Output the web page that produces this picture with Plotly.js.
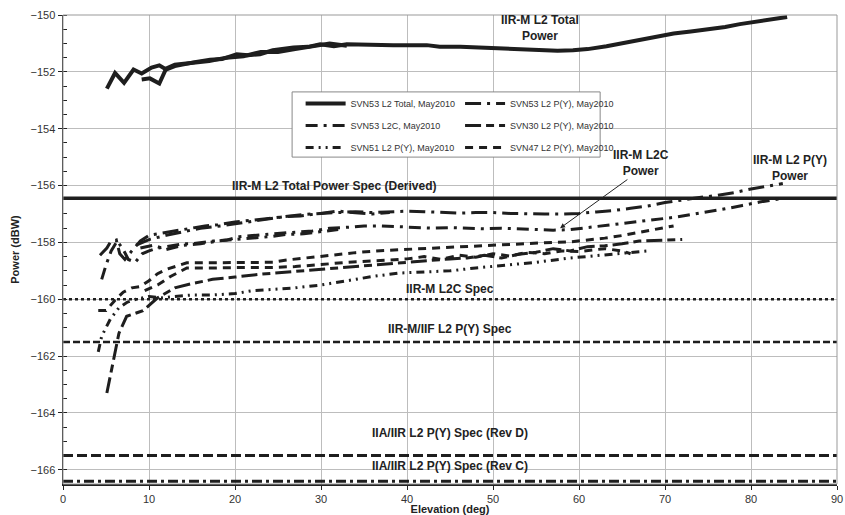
<!DOCTYPE html>
<html>
<head>
<meta charset="utf-8">
<script src="https://cdn.plot.ly/plotly-3.0.1.min.js"></script>
<style>html,body{margin:0;padding:0;background:#fff;}#chart{width:845px;height:515px;}</style>
</head>
<body>
<div id="chart"></div>
<script>
// ---- Data (elevation deg, power dBW); null separates the two passes of a satellite ----
var totalX = [5.1,6.05,7.1,8.2,9.15,10.3,11.2,12.0,13.0,14.0,15.5,17.1,18.5,20.2,21.5,22.9,24.4,26.8,28.5,29.9,31.5,33.0,35.3,38.4,42.3,43.8,46.2,49.7,52.5,55.9,57.5,59.3,61,63.2,65,67.1,69,71.0,73,74.8,77,78.7,80.5,82.6,84.2,
              null,9.15,10.1,11.2,12.0,13.0,15,17,19,21,23,25,27,29.5,31,33];
var totalY = [-152.59,-152.04,-152.39,-151.92,-152.06,-151.85,-151.77,-151.92,-151.8,-151.73,-151.65,-151.57,-151.55,-151.38,-151.42,-151.38,-151.24,-151.14,-151.12,-151.03,-151.1,-151.03,-151.05,-151.06,-151.06,-151.12,-151.12,-151.16,-151.2,-151.24,-151.26,-151.24,-151.2,-151.1,-151.0,-150.86,-150.78,-150.65,-150.58,-150.51,-150.42,-150.32,-150.24,-150.12,-150.07,
              null,-152.27,-152.23,-152.41,-151.88,-151.75,-151.7,-151.62,-151.5,-151.45,-151.3,-151.3,-151.2,-151.08,-151.0,-151.08];

var py53X = [4.3,5.1,5.5,6.2,6.6,7.2,8,9,10,11,12,13,14,15,16.5,18,20,22,24,26,28,30,32,34,36,38,40,42,44,46,48,50,52,54,56,58,60,62,64,66,68,70,72,74,76,78,80,82,83.7,
             null,8.5,10,12,14,16,18.6,21,23.3,25.6,27.6,30,32,34,36,38];
var py53Y = [-158.45,-158.2,-158.0,-157.92,-158.4,-158.6,-158.3,-157.95,-157.75,-157.7,-157.65,-157.6,-157.55,-157.5,-157.42,-157.38,-157.28,-157.22,-157.15,-157.07,-157.02,-156.98,-156.94,-156.92,-156.95,-156.93,-156.9,-156.92,-156.95,-156.97,-156.95,-156.95,-156.98,-157.0,-157.0,-157.0,-156.98,-156.93,-156.88,-156.8,-156.72,-156.6,-156.5,-156.42,-156.35,-156.25,-156.12,-156.02,-155.93,
             null,-158.1,-157.9,-157.75,-157.62,-157.5,-157.41,-157.3,-157.2,-157.1,-157.07,-156.98,-156.9,-156.96,-157.0,-156.95];

var l2cX = [4.5,5.0,5.6,6.3,7.0,7.6,8.4,9.2,10,11,12,13,14,15,16,17.5,19,20.5,22,23.7,25.2,27,29,31,33,35,37,39,41,43,45,47,49,51,53,55,57,59,61,63,65,67,69,71,73,75,77,79,81,83.7,
            null,9,10.5,12,14,16,18,20,22,24,26,28,30,32];
var l2cY = [-159.3,-158.8,-158.3,-157.95,-158.25,-158.6,-158.7,-158.4,-158.3,-158.2,-158.15,-158.1,-158.05,-158.05,-158.0,-157.95,-157.92,-157.8,-157.76,-157.72,-157.66,-157.64,-157.6,-157.5,-157.47,-157.42,-157.42,-157.45,-157.47,-157.5,-157.48,-157.5,-157.52,-157.5,-157.52,-157.55,-157.57,-157.55,-157.48,-157.42,-157.35,-157.28,-157.2,-157.12,-157.02,-156.93,-156.82,-156.7,-156.58,-156.45,
            null,-158.2,-158.1,-158.25,-158.1,-158.05,-157.95,-157.9,-157.85,-157.8,-157.72,-157.7,-157.62,-157.55];

var svn30X = [5.1,5.8,6.5,7.4,8.3,9.3,11,13,15,17.4,20,23,27,31,35,39,43,45,47,49,51,53,55,57,59,61,63,65,67,70,72];
var svn30Y = [-163.3,-162.2,-161.2,-160.6,-160.5,-160.4,-159.95,-159.6,-159.45,-159.3,-159.22,-159.12,-159.02,-158.92,-158.82,-158.72,-158.62,-158.58,-158.55,-158.45,-158.55,-158.42,-158.35,-158.22,-158.3,-158.15,-158.12,-158.05,-157.95,-157.93,-157.9];

var svn51X = [4.1,4.5,5.5,6.5,7.5,8.5,10,11.5,13,15,17.4,20,22,24,27,30,33,36,39,41,45,48,51,55,59,63,66,68];
var svn51Y = [-161.85,-161.3,-160.7,-160.3,-160.1,-160.0,-159.9,-159.95,-159.9,-159.85,-159.85,-159.8,-159.7,-159.66,-159.6,-159.5,-159.35,-159.2,-159.08,-159.05,-159.0,-158.9,-158.82,-158.7,-158.55,-158.45,-158.35,-158.3];

var svn47X = [4.1,5,6,7,8,9,10,11,12,13,14.4,16,18,20,22,24.4,26,28,30,32,34,36.9,39,41,43,45,47,49,51,53,55,57,59,61,63,65,67,69,71,
              null,9.5,11,12.5,14.4,17,20,22,24.4,27,30,33,36.9,40,42,44,46,48,50,52,54,56,58,60,63,65,66];
var svn47Y = [-160.4,-160.4,-160.05,-159.75,-159.6,-159.55,-159.35,-159.1,-158.95,-158.85,-158.72,-158.72,-158.72,-158.7,-158.7,-158.7,-158.62,-158.55,-158.48,-158.42,-158.36,-158.29,-158.26,-158.22,-158.2,-158.16,-158.12,-158.1,-158.08,-158.05,-158.02,-158.0,-157.98,-157.92,-157.85,-157.76,-157.65,-157.53,-157.42,
              null,-159.7,-159.5,-159.2,-158.9,-158.9,-158.88,-158.88,-158.88,-158.85,-158.78,-158.7,-158.64,-158.58,-158.5,-158.6,-158.45,-158.52,-158.4,-158.48,-158.35,-158.4,-158.3,-158.32,-158.22,-158.3,-158.4];

// Spec levels (dBW)
var specNames = ["IIR-M L2 Total Power Spec (Derived)","IIR-M L2C Spec","IIR-M/IIF L2 P(Y) Spec","IIA/IIR L2 P(Y) Spec (Rev D)","IIA/IIR L2 P(Y) Spec (Rev C)"];
var specLevels = [-156.45,-160.0,-161.5,-165.5,-166.4];
var specRange = [0,90];

var seriesNames = ["SVN53 L2 Total, May2010","SVN53 L2 P(Y), May2010","SVN53 L2C, May2010","SVN30 L2 P(Y), May2010","SVN51 L2 P(Y), May2010","SVN47 L2 P(Y), May2010"];

var C = "#1e1e1e";
function tr(x,y,name,dash,w,leg){
  return {x:x,y:y,name:name,legendgroup:name,type:"scatter",mode:"lines",connectgaps:false,
    line:{color:C,width:w,dash:dash},showlegend:true,legend:leg,hoverinfo:"skip"};
}
var traces = [];
var specDash = ["solid","dot","7px,3px","10px,4px","10px,4px,3px,4px"];
var specW = [3.5,2.5,2.5,3,3];
for (var i=0;i<specLevels.length;i++){
  traces.push({x:specRange,y:[specLevels[i],specLevels[i]],type:"scatter",mode:"lines",
    line:{color:C,width:specW[i],dash:specDash[i]},showlegend:false,hoverinfo:"skip"});
}
traces.push(tr(totalX,totalY,seriesNames[0],"solid",4,"legend"));
traces.push(tr(l2cX,l2cY,seriesNames[2],"12px,6px,3px,6px",3,"legend"));
traces.push(tr(svn51X,svn51Y,seriesNames[4],"8px,5px,2px,5px,2px,5px",3,"legend"));
traces.push(tr(py53X,py53Y,seriesNames[1],"16px,6px,3px,6px",3,"legend2"));
traces.push(tr(svn30X,svn30Y,seriesNames[3],"16px,5px,8px,5px",3,"legend2"));
traces.push(tr(svn47X,svn47Y,seriesNames[5],"8px,6px",3,"legend2"));

var annFont = {family:"Liberation Sans, Arial, sans-serif",size:12,color:"#222"};
var annotations = [
  {x:55.5,y:-150.45,text:"<b>IIR-M L2 Total<br>Power</b>",showarrow:false,font:annFont},
  {x:31.5,y:-156.0,text:"<b>"+specNames[0]+"</b>",showarrow:false,font:annFont},
  {x:45,y:-159.65,text:"<b>"+specNames[1]+"</b>",showarrow:false,font:annFont},
  {x:45,y:-161.05,text:"<b>"+specNames[2]+"</b>",showarrow:false,font:annFont},
  {x:45,y:-164.7,text:"<b>"+specNames[3]+"</b>",showarrow:false,font:annFont},
  {x:45,y:-165.85,text:"<b>"+specNames[4]+"</b>",showarrow:false,font:annFont},
  {x:67.2,y:-155.2,text:"<b>IIR-M L2C<br>Power</b>",showarrow:false,font:annFont},
  {x:84.5,y:-155.4,text:"<b>IIR-M L2 P(Y)<br>Power</b>",showarrow:false,font:annFont},
  {x:57.8,y:-157.5,ax:65.8,ay:-155.75,axref:"x",ayref:"y",text:"",showarrow:true,arrowhead:2,arrowsize:1,arrowwidth:1,arrowcolor:"#222"}
];

var legFont = {family:"Liberation Sans, Arial, sans-serif",size:9,color:"#333"};
var layout = {
  width:845,height:515,
  margin:{l:63,r:8,t:15,b:31},
  paper_bgcolor:"#fff",plot_bgcolor:"#fff",
  font:{family:"Liberation Sans, Arial, sans-serif",size:11,color:"#333"},
  xaxis:{range:[0,90],dtick:10,tick0:0,showgrid:true,gridcolor:"#bdbdbd",gridwidth:1,
    zeroline:false,showline:true,linecolor:"#222",linewidth:1.5,mirror:false,
    ticks:"outside",ticklen:4,tickcolor:"#222",
    title:{text:"<b>Elevation (deg)</b>",font:{size:11,color:"#222"},standoff:4},automargin:false,fixedrange:true},
  yaxis:{range:[-166.5,-150],dtick:2,tick0:-150,showgrid:true,gridcolor:"#bdbdbd",gridwidth:1,
    zeroline:false,showline:true,linecolor:"#222",linewidth:1.5,
    ticks:"outside",ticklen:4,tickcolor:"#222",
    minor:{dtick:0.5,ticks:"inside",ticklen:4,tickcolor:"#222",showgrid:false},
    title:{text:"<b>Power (dBW)</b>",font:{size:11,color:"#222"},standoff:8},automargin:false,fixedrange:true},
  shapes:[
    {type:"rect",xref:"paper",yref:"paper",x0:0,x1:1,y0:0,y1:1,line:{color:"#999",width:1},fillcolor:"rgba(0,0,0,0)",layer:"above"},
    {type:"rect",xref:"paper",yref:"paper",x0:0.296,x1:0.694,y0:0.697,y1:0.836,line:{color:"#888",width:1},fillcolor:"#fff",layer:"above"}
  ],
  legend:{x:0.307,y:0.842,xanchor:"left",yanchor:"top",bgcolor:"rgba(0,0,0,0)",borderwidth:0,font:legFont,tracegroupgap:3,itemwidth:40},
  legend2:{x:0.513,y:0.842,xanchor:"left",yanchor:"top",bgcolor:"rgba(0,0,0,0)",borderwidth:0,font:legFont,tracegroupgap:3,itemwidth:40},
  annotations:annotations,
  showlegend:true
};
Plotly.newPlot("chart",traces,layout,{displayModeBar:false,staticPlot:true});
</script>
</body>
</html>
